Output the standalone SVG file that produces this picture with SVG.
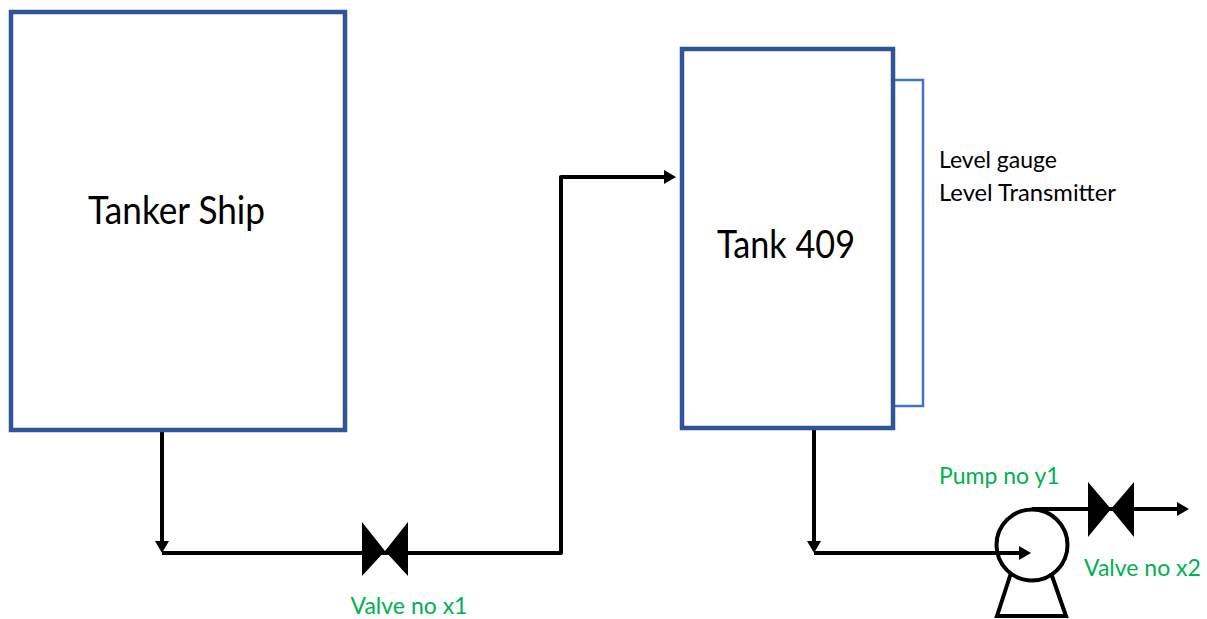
<svg xmlns="http://www.w3.org/2000/svg" width="1207" height="619" viewBox="0 0 1207 619">
<style>
.box{fill:#fff;stroke:#2f5597;stroke-width:4.5}
.pipe{fill:none;stroke:#000;stroke-width:4;stroke-linejoin:round}
.sym{fill:none;stroke:#000;stroke-width:4}
.t{font-family:"Lato","Open Sans",sans-serif;fill:#000}
.g{font-family:"Lato","Open Sans",sans-serif;fill:#00b050;font-size:23px}
</style>
<defs>
<marker id="arr" markerUnits="userSpaceOnUse" markerWidth="14" markerHeight="15" refX="6" refY="7" orient="auto"><path d="M0,0L12,7L0,14Z" fill="#000"/></marker>
</defs>
<rect width="1207" height="619" fill="#fff"/>
<g id="connectors">
<path class="pipe" d="M162 430V547" marker-end="url(#arr)"/>
<path class="pipe" d="M162 553H561V177H670" marker-end="url(#arr)"/>
<path class="pipe" d="M814 428V547" marker-end="url(#arr)"/>
<path class="pipe" d="M814 553H1025" marker-end="url(#arr)"/>
<path class="pipe" d="M1032 509H1183" marker-end="url(#arr)"/>
<path fill="none" stroke="#4472c4" stroke-width="2.5" d="M893 80H923V406H893"/>
</g>
<g id="tanker-ship">
<rect class="box" x="11" y="12" width="334" height="418"/>
<text class="t" x="88" y="224" font-size="38" textLength="177" lengthAdjust="spacingAndGlyphs">Tanker Ship</text>
</g>
<g id="tank-409">
<rect class="box" x="682" y="49" width="211" height="379"/>
<text class="t" x="717" y="258" font-size="38" textLength="138" lengthAdjust="spacingAndGlyphs">Tank 409</text>
</g>
<g id="level-instruments">
<text class="t" x="939" y="168" font-size="23">Level gauge</text>
<text class="t" x="939" y="201" font-size="23" textLength="177" lengthAdjust="spacingAndGlyphs">Level Transmitter</text>
</g>
<g id="valve-x1">
<path d="M362 522L385 551L408 522V576L385 551L362 576Z" fill="#000"/>
<text class="g" x="409" y="614" text-anchor="middle">Valve no x1</text>
</g>
<g id="pump-y1">
<circle class="sym" cx="1032" cy="545" r="35.5"/>
<path class="sym" d="M1011 573L997 616H1066L1051 573"/>
<text class="g" x="939" y="484">Pump no y1</text>
</g>
<g id="valve-x2">
<path d="M1088 482L1111 509L1134 482V537L1111 509L1088 537Z" fill="#000"/>
<text class="g" x="1084" y="576">Valve no x2</text>
</g>
</svg>
